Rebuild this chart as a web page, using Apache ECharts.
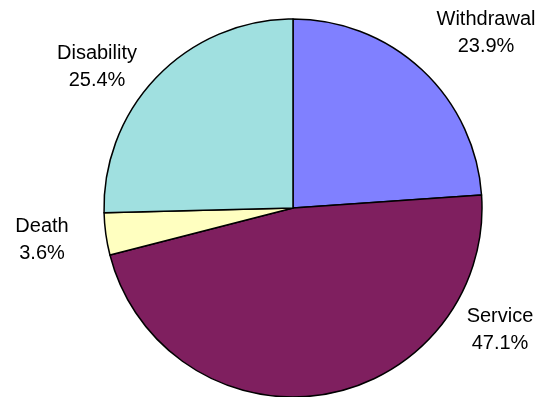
<!DOCTYPE html>
<html>
<head>
<meta charset="utf-8">
<script src="https://cdn.jsdelivr.net/npm/echarts@6/dist/echarts.min.js"></script>
<style>
  html, body { margin: 0; padding: 0; background: #ffffff; }
  #chart { width: 543px; height: 397px; }
</style>
</head>
<body>
<div id="chart"></div>
<script>
// Categories and their shares (percent), clockwise from twelve o'clock
const categories = ['Withdrawal', 'Service', 'Death', 'Disability'];
const shares = [23.9, 47.1, 3.6, 25.4];
const sliceColors = ['#8080ff', '#7f1f5f', '#ffffc0', '#a0e0e0'];

// Where each label block is centred (pixels)
const labelSpots = [[486, 33], [500, 330], [42, 240], [97, 67]];

const chart = echarts.init(document.getElementById('chart'), null, { renderer: 'canvas' });

chart.setOption({
  animation: false,
  backgroundColor: '#ffffff',
  series: [{
    type: 'pie',
    center: [293, 208],
    radius: [0, 189],
    startAngle: 90,
    clockwise: true,
    avoidLabelOverlap: false,
    silent: true,
    itemStyle: { borderColor: '#000000', borderWidth: 1.5 },
    label: {
      show: true,
      position: 'outside',
      formatter: p => p.name + '\n' + p.value.toFixed(1) + '%',
      fontFamily: 'Liberation Sans, Arial, sans-serif',
      fontSize: 20,
      lineHeight: 27,
      color: '#000000',
      align: 'center'
    },
    labelLine: { show: false },
    labelLayout: params => {
      const s = labelSpots[params.dataIndex];
      return { x: s[0], y: s[1], align: 'center', verticalAlign: 'middle' };
    },
    data: categories.map((name, i) => ({
      name: name,
      value: shares[i],
      itemStyle: { color: sliceColors[i] }
    }))
  }]
});
</script>
</body>
</html>
